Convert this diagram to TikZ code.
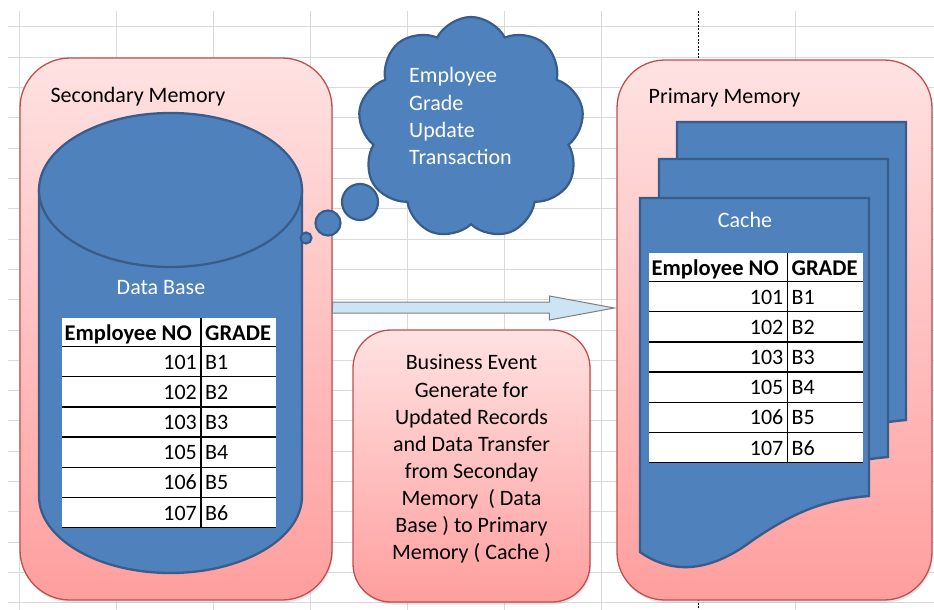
\documentclass[tikz,border=0pt]{standalone}
\usepackage{fontspec}
\setmainfont{Carlito}
\usetikzlibrary{shapes.symbols,shadows,calc}
\definecolor{pinkTop}{RGB}{255,226,226}
\definecolor{pinkBot}{RGB}{255,158,158}
\definecolor{pinkLine}{RGB}{192,80,77}
\definecolor{blueFill}{RGB}{79,129,189}
\definecolor{blueLine}{RGB}{56,93,138}
\definecolor{gridc}{RGB}{218,218,218}
\definecolor{arrFill}{RGB}{204,228,244}
\definecolor{arrLine}{RGB}{128,128,128}
\newcommand\emptable[5]{%
  % #1 prefix, #2 left x, #3 divider x, #4 right x, #5 top y
  \fill[white] (#2,#5) rectangle (#4,{#5+28.5+6*30.2});
  \node[cellhd, anchor=base west] (#1h1) at ({#2+2.5},{#5+22}) {Employee NO};
  \node[cellhd, anchor=base west] (#1h2) at ({#3+4},{#5+22}) {GRADE};
  \foreach \n/\g [count=\i] in {101/B1,102/B2,103/B3,105/B4,106/B5,107/B6} {
    \draw[tabline] (#2,{#5+28.5+30.2*(\i-1)}) -- (#4,{#5+28.5+30.2*(\i-1)});
    \node[cell, anchor=base east] (#1n\i) at ({#3-4},{#5+28.5+30.2*(\i-1)+22.5}) {\n};
    \node[cell, anchor=base west] (#1g\i) at ({#3+4},{#5+28.5+30.2*(\i-1)+22.5}) {\g};
  }
  \draw[tabline] (#2,{#5+28.5+6*30.2}) -- (#4,{#5+28.5+6*30.2});
  \draw[tabline] (#3,#5) -- (#3,{#5+28.5+6*30.2});
}
\begin{document}
\begin{tikzpicture}[x=1pt,y=-1pt,
  font=\fontsize{22}{27.1}\selectfont,
  pinkbox/.style={draw=pinkLine, line width=1.3pt, top color=pinkTop, bottom color=pinkBot,
    rounded corners=#1, inner sep=0pt,
    drop shadow={shadow xshift=1pt, shadow yshift=-2.5pt, opacity=0.22}},
  pinkbox/.default=48pt,
  blueshape/.style={fill=blueFill, draw=blueLine, line width=2.3pt},
  docshape/.style={fill=blueFill, draw=blueLine, line width=2.4pt, line join=miter},
  bubble/.style={circle, fill=blueFill, draw=blueLine, line width=2.2pt, inner sep=0pt},
  cell/.style={inner sep=0pt, text=black},
  cellhd/.style={inner sep=0pt, text=black, font=\fontsize{22.5}{27}\selectfont\bfseries},
  tabline/.style={draw=black, line width=1.4pt},
  lbl/.style={inner sep=0pt, text=black},
  wlbl/.style={inner sep=0pt, text=white},
  gridline/.style={draw=gridc, line width=1pt}
]
\useasboundingbox (0,0) rectangle (934,610);
\fill[white] (0,0) rectangle (934,610);
% worksheet grid
\foreach \k in {0,...,19} \draw[gridline] (8,{27+30.3*\k}) -- (934,{27+30.3*\k});
\foreach \k in {0,1,2,3,4,5,6,8} \draw[gridline] ({19+97*\k},11) -- ({19+97*\k},610);
\draw[black, line width=0.8pt, dash pattern=on 2pt off 1.5pt] (698,11) -- (698,610);

% container boxes
\node[pinkbox=50pt, minimum width=312pt, minimum height=542pt] (sec) at (176,329) {};
\node[pinkbox=48pt, minimum width=315pt, minimum height=540pt] (prim) at (774.5,330) {};
\node[lbl] (seclbl) at (138,97) {Secondary Memory};
\node[lbl] (primlbl) at (724.5,98) {Primary Memory};

% database cylinder
\path[blueshape] (39,190) -- (39,496) .. controls (39,538.5) and (97.9,573) .. (170.5,573)
  .. controls (243.1,573) and (302,538.5) .. (302,496) -- (302,190) -- cycle;
\path[blueshape] (170.5,190) ellipse [x radius=131.5, y radius=77];
\node[wlbl] (dblbl) at (161,288) {Data Base};
\emptable{L}{62}{201}{276}{318}

% thought cloud
\node[bubble, minimum size=11pt] (b1) at (306,238) {};
\node[bubble, minimum size=25pt] (b2) at (328,223) {};
\node[bubble, minimum size=36pt] (b3) at (360,202) {};
\node[cloud, cloud puffs=9, cloud puff arc=125, aspect=1, fill=blueFill, draw=blueLine,
  line width=2.2pt, minimum width=226pt, minimum height=222pt] (cloud) at (471,128) {};
\node[wlbl, align=left, anchor=west] (ctext) at (409,116) {Employee\\Grade\\Update\\Transaction};

% cache multi-document
\foreach \dx/\dy in {37/-76, 19/-39, 0/0}
  \path[docshape, shift={(\dx,\dy)}] (640,198) -- (869,198) -- (869,496)
    .. controls (820,500) and (790,515) .. (753,540)
    .. controls (720,565) and (680,580) .. (640,552) -- cycle;
\node[wlbl] (cachelbl) at (745,220) {Cache};
\emptable{R}{649}{787.5}{862.5}{253}

% transfer arrow
\coordinate (arrS) at (sec.east |- 0,308);
\coordinate (arrE) at ($(prim.west |- 0,308)+(-2,0)$);
\draw[fill=arrFill, draw=arrLine, line width=1pt, line join=miter]
  (arrS) ++(0,-6) -- ++(217,0) -- ++(0,-6) -- (arrE) -- ++(-65,12) -- ++(0,-7) -- ++(-217,0) -- cycle;

% business event box
\node[pinkbox=38pt, minimum width=237pt, minimum height=272pt] (evt) at (471.5,466) {};
\node[lbl, align=center] (evtxt) at (471.5,459) {Business Event\\Generate for\\Updated Records\\and Data Transfer\\from Seconday\\Memory\ \ ( Data\\Base ) to Primary\\Memory ( Cache )};
\end{tikzpicture}
\end{document}
